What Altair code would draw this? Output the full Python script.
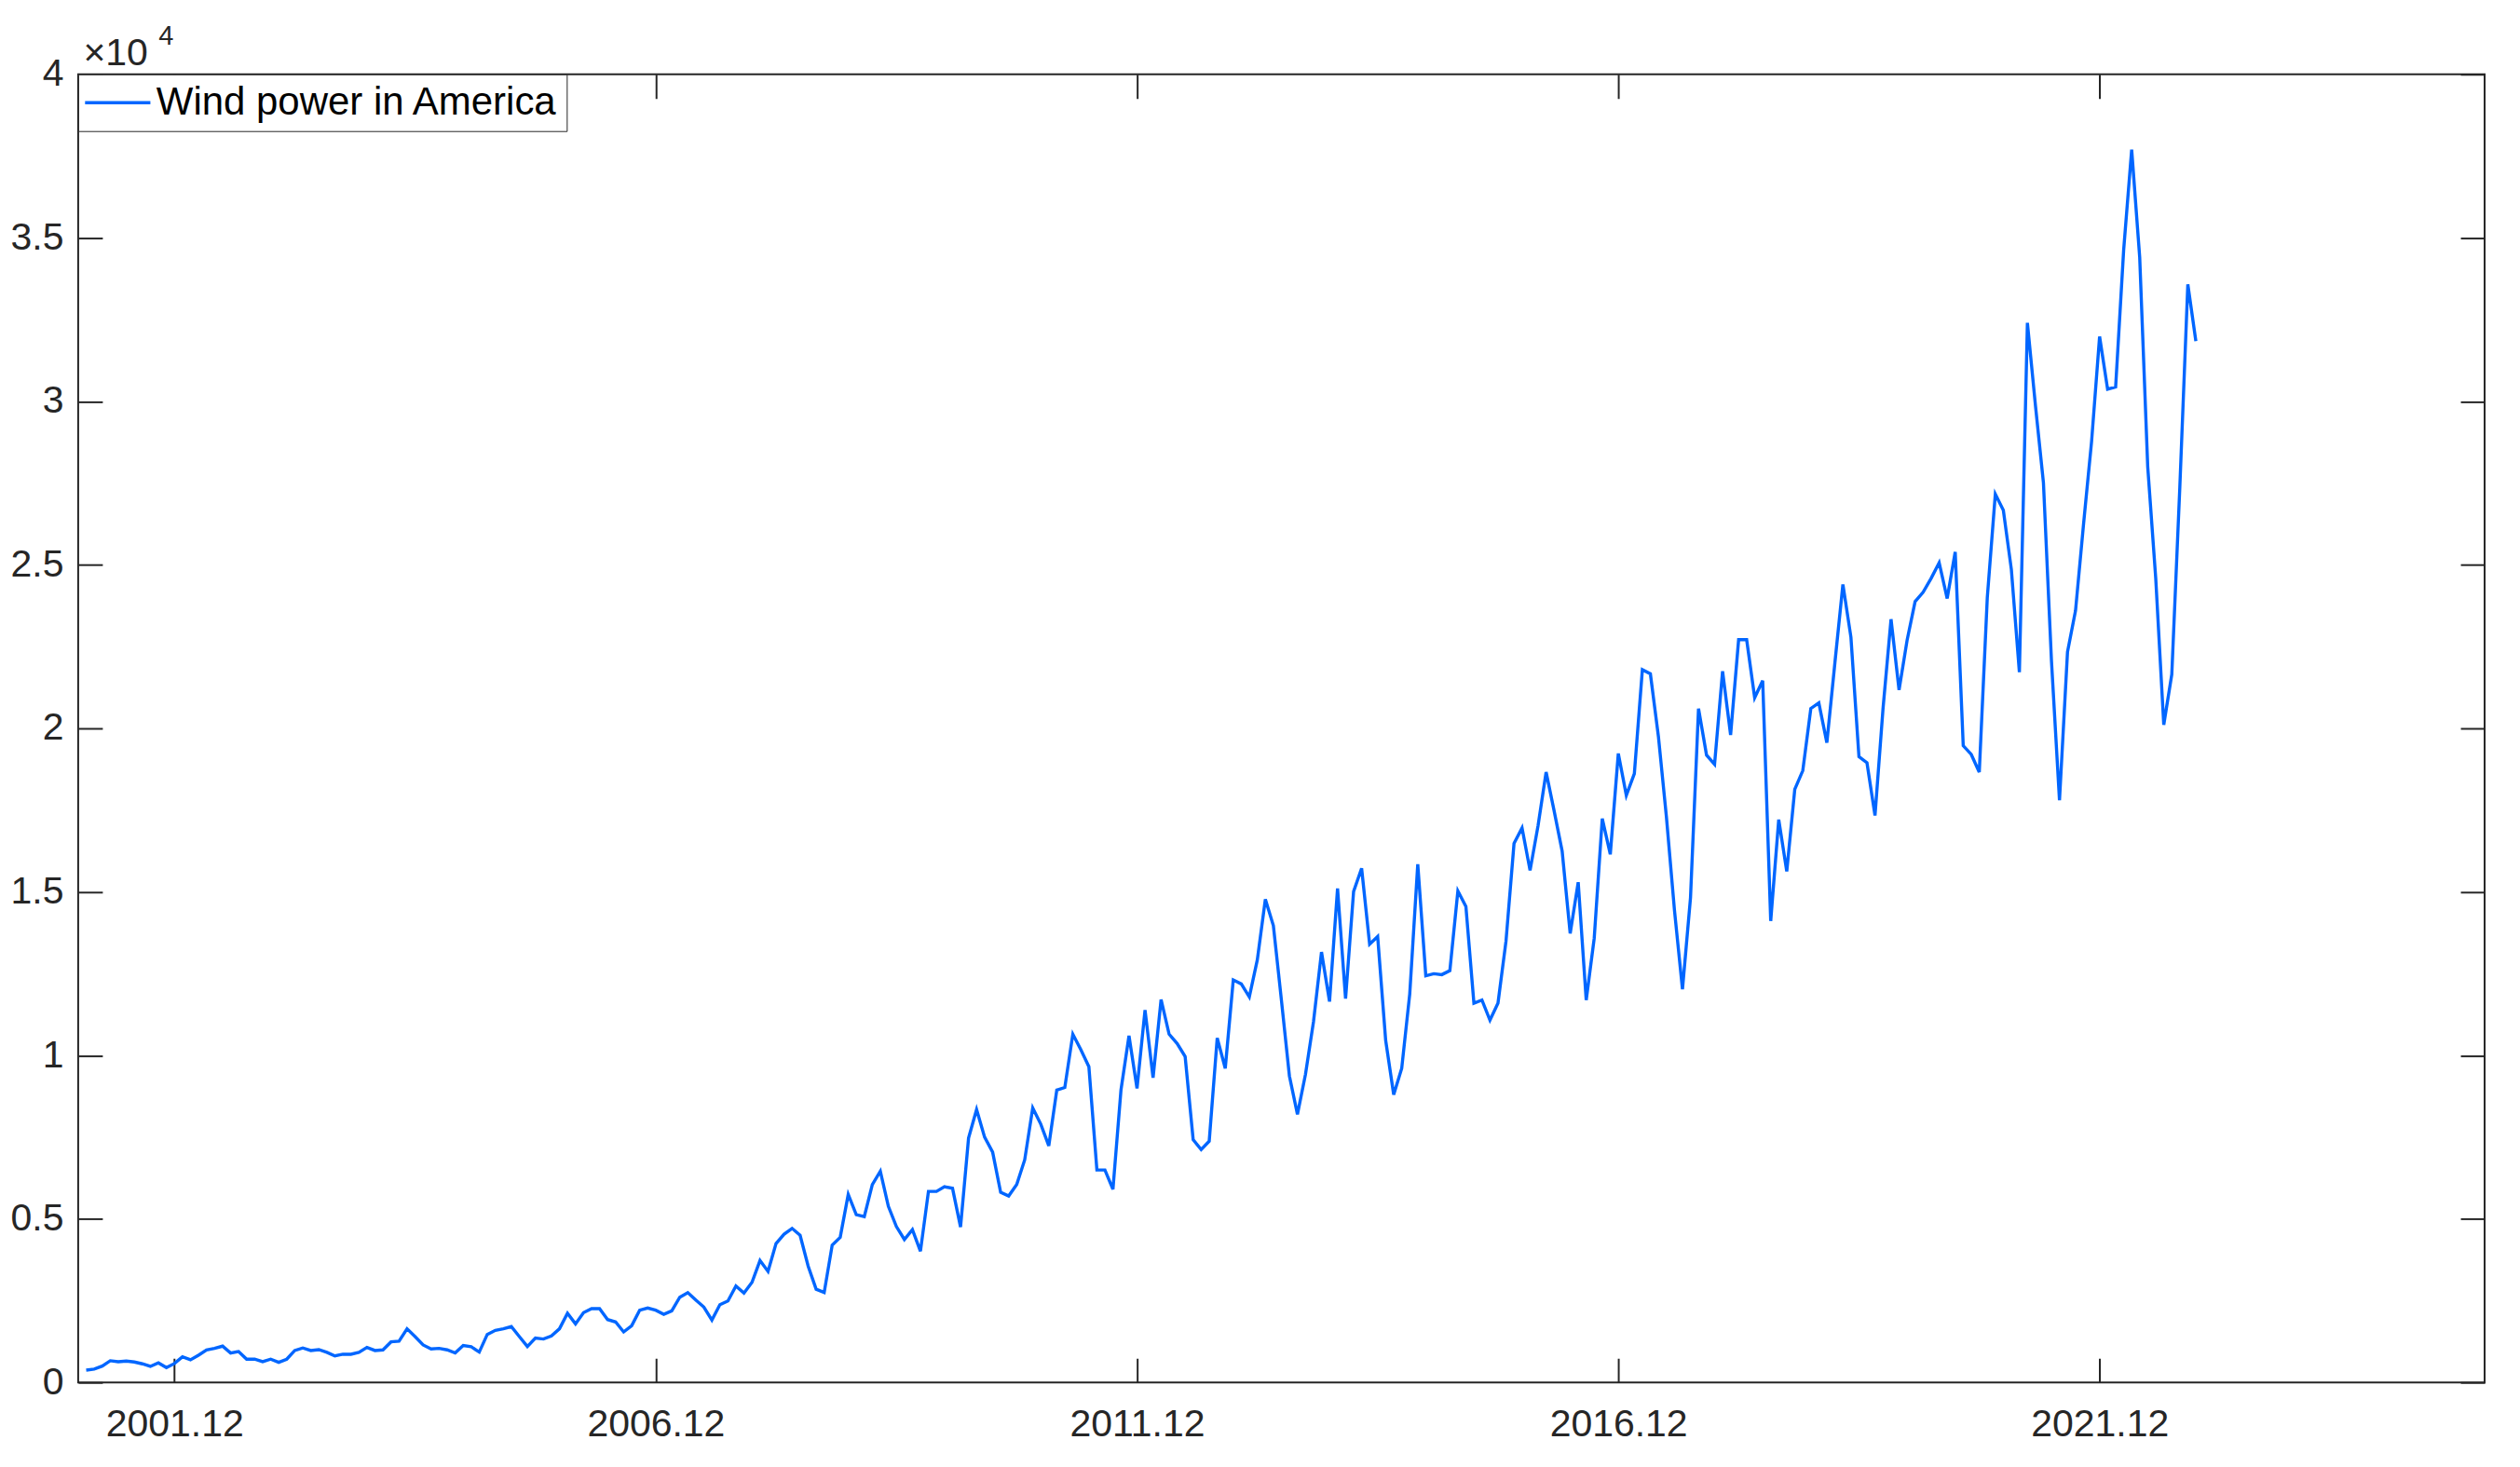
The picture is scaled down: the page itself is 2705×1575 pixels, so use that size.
import altair as alt
import pandas as pd

# ---- data (monthly, 2001.01 .. 2022.12) ----
wind = [
    378, 407, 501, 663, 634, 654, 626, 569, 492, 597, 455, 578,
    785, 691, 834, 996, 1041, 1110, 899, 947, 711, 711, 634, 711,
    615, 711, 976, 1053, 976, 1004, 920, 810, 862, 862, 919, 1070,
    976, 996, 1240, 1260, 1640, 1402, 1147, 1024, 1043, 996, 900, 1128,
    1090, 929, 1469, 1593, 1640, 1707, 1402, 1099, 1355, 1327, 1422, 1640,
    2114, 1790, 2134, 2256, 2256, 1923, 1849, 1545, 1735, 2208, 2276, 2208,
    2085, 2190, 2606, 2748, 2521, 2304, 1906, 2378, 2492, 2947, 2731, 3061,
    3727, 3394, 4248, 4532, 4711, 4500, 3560, 2850, 2750, 4200, 4438, 5747,
    5130, 5073, 6049, 6458, 5386, 4769, 4371, 4675, 4011, 5842, 5842, 5984,
    5936, 4751, 7471, 8345, 7500, 7045, 5813, 5700, 6049, 6809, 8393, 7900,
    7236, 8942, 9019, 10649, 10174, 9653, 6495, 6495, 5906, 8942, 10601, 8990,
    11389, 9320, 11710, 10649, 10364, 9966, 7425, 7121, 7377, 10535, 9605, 12308,
    12185, 11787, 12925, 14774, 13969, 11693, 9369, 8200, 9417, 11027, 13161, 11645,
    15107, 11739, 15010, 15722, 13400, 13636, 10458, 8800, 9605, 11881, 15847, 12433,
    12498, 12470, 12592, 15030, 14555, 11596, 11693, 11076, 11596, 13494, 16481, 16956,
    15656, 17030, 18663, 17477, 16245, 13730, 15295, 11693, 13588, 17241, 16148, 19232,
    17952, 18615, 21793, 21667, 19753, 17286, 14441, 12023, 14822, 20606, 19184, 18899,
    21744, 19801, 22712, 22712, 20939, 21460, 14111, 17211, 15628, 18140, 18709, 20606,
    20777, 19563, 22000, 24400, 22789, 19136, 18948, 17335, 20600, 23338, 21176, 22693,
    23878, 24163, 24589, 25065, 23973, 25395, 19469, 19204, 18663, 24000, 27160, 26670,
    24860, 21720, 32400, 29880, 27510, 22065, 17800, 22340, 23600, 26250, 28770, 31980,
    30370, 30440, 34630, 37700, 34400, 28000, 24580, 20110, 21650, 27370, 33580, 31840,
]
start_year = 2001
months = [f"{start_year + k // 12}.{k % 12 + 1:02d}" for k in range(len(wind))]
series_name = "Wind power in America"
tick_labels = ["2001.12", "2006.12", "2011.12", "2016.12", "2021.12"]
y_ticks = [0, 5000, 10000, 15000, 20000, 25000, 30000, 35000, 40000]
x_domain = [0, 300]
y_domain = [0, 40000]

tick_pos = [months.index(t) + 1 for t in tick_labels]
df = pd.DataFrame({
    "idx": list(range(1, len(wind) + 1)),
    "month": months,
    "value": wind,
    "series": series_name,
})

# ---- layout / style ----
W, H = 2586, 1406
FONT = "Liberation Sans"
DARK = "#262626"
BLUE = "#0066ff"
TICK = 26
LINE_W = 3.4

x_scale = alt.Scale(domain=x_domain, nice=False, zero=False)
y_scale = alt.Scale(domain=y_domain, nice=False, zero=False)

x_label_expr = " : ".join(
    f"datum.value == {p} ? '{l}'" for p, l in zip(tick_pos, tick_labels)
) + " : ''"

tick_axis_common = dict(
    labels=False, domain=False, grid=False, ticks=True,
    tickSize=TICK, tickWidth=2, tickColor=DARK,
)

# layer 1: visible line, labelled axes (bottom / left), legend
main = alt.Chart(df).mark_line(strokeWidth=LINE_W).encode(
    x=alt.X("idx:Q", scale=x_scale, axis=alt.Axis(
        orient="bottom", values=tick_pos, labelExpr=x_label_expr,
        ticks=False, tickSize=0, domain=False, grid=False,
        labelPadding=25, labelFont=FONT, labelFontSize=41, labelColor=DARK,
        labelFlush=False, labelOverlap=False, title=None)),
    y=alt.Y("value:Q", scale=y_scale, axis=alt.Axis(
        orient="left", values=y_ticks, labelExpr="'' + datum.value / 10000",
        ticks=False, tickSize=0, domain=False, grid=False,
        labelPadding=16, labelFont=FONT, labelFontSize=41, labelColor=DARK,
        labelFlush=False, labelOverlap=False,
        title="×10", titleAngle=0, titleX=5, titleY=-10, titleAlign="left",
        titleBaseline="alphabetic", titleFont=FONT, titleFontSize=41,
        titleFontWeight="normal", titleColor=DARK)),
    color=alt.Color("series:N",
                    scale=alt.Scale(domain=[series_name], range=[BLUE]),
                    legend=alt.Legend(
                        orient="none", legendX=0, legendY=0, title=None,
                        labelFont=FONT, labelFontSize=42, labelColor="#000000",
                        labelLimit=2000,
                        symbolType="M-1.8,0H1.8", symbolSize=1521,
                        symbolOffset=12, symbolStrokeWidth=LINE_W,
                        strokeColor=DARK, fillColor="#ffffff",
                        padding=9, labelOffset=20)),
)

# layer 2: inward ticks at bottom edge and left edge (+ exponent "4")
ticks_a = alt.Chart(df).mark_line(opacity=0).encode(
    x=alt.X("idx:Q", scale=x_scale, axis=alt.Axis(
        orient="top", offset=-H, values=tick_pos, title=None, **tick_axis_common)),
    y=alt.Y("value:Q", scale=y_scale, axis=alt.Axis(
        orient="right", offset=-W, values=y_ticks,
        title="4", titleAngle=0, titleX=86, titleY=-32, titleAlign="left",
        titleBaseline="alphabetic", titleFont=FONT, titleFontSize=29,
        titleFontWeight="normal", titleColor=DARK, **tick_axis_common)),
)

# layer 3: inward ticks at top edge and right edge
ticks_b = alt.Chart(df).mark_line(opacity=0).encode(
    x=alt.X("idx:Q", scale=x_scale, axis=alt.Axis(
        orient="bottom", offset=-H, values=tick_pos, title=None, **tick_axis_common)),
    y=alt.Y("value:Q", scale=y_scale, axis=alt.Axis(
        orient="left", offset=-W, values=y_ticks, title=None, **tick_axis_common)),
)

chart = alt.layer(ticks_a, ticks_b, main).resolve_axis(
    x="independent", y="independent"
).properties(
    width=W, height=H,
    padding={"left": 76, "top": 71, "right": 30, "bottom": 70},
    autosize=alt.AutoSizeParams(type="none"),
    background="#ffffff",
).configure_view(
    stroke=DARK, strokeWidth=2,
)

chart.save("out.html", embed_options={"renderer": "svg", "actions": False})
